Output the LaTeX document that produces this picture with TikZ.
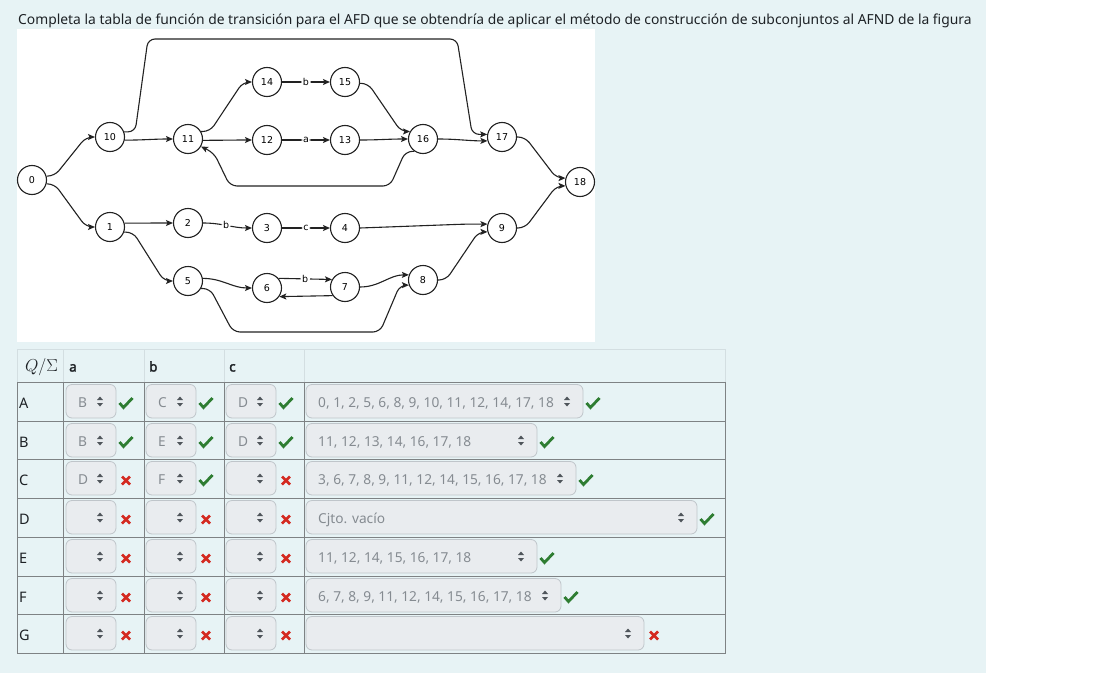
\documentclass[tikz,border=0pt]{standalone}
\usepackage{fontspec}
\setmainfont{Noto Sans}
\newfontfamily\gvfont{DejaVu Sans}
\newfontfamily\hdrfont[AutoFakeBold=2.2]{Noto Sans}
\usetikzlibrary{arrows.meta,calc}
\definecolor{pagebg}{HTML}{E7F3F5}
\definecolor{selfill}{HTML}{E9ECEF}
\definecolor{selborder}{HTML}{BFC5CA}
\definecolor{seltext}{HTML}{858B91}
\definecolor{okgreen}{HTML}{2E7D32}
\definecolor{badred}{HTML}{D42A20}
\definecolor{gridline}{HTML}{7E8284}
\definecolor{headline}{HTML}{D3DEE1}
\definecolor{txt}{HTML}{1D2125}
\definecolor{iconc}{HTML}{4F555B}
\definecolor{gvline}{HTML}{222222}
\newcommand\markok[2]{\draw[okmark] (#1-6.5,#2-0.5) -- (#1-2.5,#2+4) -- (#1+6.5,#2-5.5);}
\newcommand\markbad[2]{\draw[badmark] (#1-4,#2-4) -- (#1+4,#2+4) (#1-4,#2+4) -- (#1+4,#2-4);}
\newcommand\Sel[6]{%
  \draw[selbox] (#2,#4+2.5) rectangle (#3,#4+36);
  \node[seltxt] (#1t) at (#2+12,#4+25) {#5};
  \fill[iconc] (#3-19,#4+18) -- (#3-13,#4+18) -- (#3-16,#4+14.5) -- cycle;
  \fill[iconc] (#3-19,#4+21) -- (#3-13,#4+21) -- (#3-16,#4+24.5) -- cycle;
  #6{#3+10}{#4+21.5}
}
\newcommand\RowLab[3]{\node[rowlab] (#1) at (19,#2+26) {#3};}
\begin{document}
\begin{tikzpicture}[x=1pt,y=-1pt,
  st/.style={circle, draw=gvline, line width=1.1pt, minimum size=29pt, inner sep=0pt, fill=white,
    font=\gvfont\fontsize{9.5}{10}\selectfont},
  ed/.style={draw=gvline, line width=1.1pt, rounded corners=7pt,
    -{Stealth[length=7pt,width=6pt,inset=1.5pt]}},
  lbl/.style={fill=white, inner sep=1.5pt, font=\gvfont\fontsize{9.5}{10}\selectfont},
  selbox/.style={draw=selborder, line width=0.8pt, fill=selfill, rounded corners=6pt},
  seltxt/.style={anchor=base west, inner sep=0pt, text=seltext, font=\fontsize{13.7}{15}\selectfont},
  okmark/.style={draw=okgreen, line width=2.8pt, line join=miter},
  badmark/.style={draw=badred, line width=2.7pt},
  rowlab/.style={anchor=base west, inner sep=0pt, text=txt, font=\fontsize{14.5}{16}\selectfont},
  hdr/.style={anchor=base west, inner sep=0pt, text=txt, font=\hdrfont\bfseries\fontsize{13.5}{15}\selectfont},
  grid/.style={draw=gridline, line width=1pt},
  hgrid/.style={draw=headline, line width=1pt}]
\useasboundingbox (0,0) rectangle (1099,698);
\fill[white] (0,0) rectangle (1099,698);
\fill[pagebg] (0,0) rectangle (986,673);
\fill[white] (17,29) rectangle (595,342);
\node[anchor=base west, inner sep=0pt, text=txt, font=\fontsize{13.85}{15}\selectfont] (title) at (18,24.5)
  {Completa la tabla de función de transición para el AFD que se obtendría de aplicar el método de construcción de subconjuntos al AFND de la figura};

% ---------- automaton ----------
\node[st] (n0) at (32,180) {0};
\node[st] (n10) at (110,137) {10};
\node[st] (n11) at (188,139) {11};
\node[st] (n14) at (267,82) {14};
\node[st] (n12) at (267,140) {12};
\node[st] (n15) at (345,82) {15};
\node[st] (n13) at (345,140) {13};
\node[st] (n16) at (423,139) {16};
\node[st] (n17) at (502,137) {17};
\node[st] (n18) at (580,182) {18};
\node[st] (n1) at (110,227) {1};
\node[st] (n2) at (188,223) {2};
\node[st] (n3) at (267,228) {3};
\node[st] (n4) at (345,228) {4};
\node[st] (n5) at (188,281) {5};
\node[st] (n6) at (267,288) {6};
\node[st] (n7) at (345,287) {7};
\node[st] (n8) at (423,280) {8};
\node[st] (n9) at (502,228) {9};

\draw[ed] (n0.15) -- ++(8,0) -- ([xshift=-9pt]n10.west) -- (n10.west);
\draw[ed] (n0.-15) -- ++(8,0) -- ([xshift=-9pt]n1.west) -- (n1.west);
\draw[ed] (n10.-12) to[out=0,in=180] (n11.west);
\draw[ed] (n10.20) -- ++(11,0) -- (148,39) -- (457,39) -- ([xshift=-15pt]n17.170) -- (n17.170);
\draw[ed] (n11.30) -- ++(9,0) -- ([xshift=-9pt]n14.west) -- (n14.west);
\draw[ed] (n11.-5) to[out=0,in=180] (n12.west);
\draw[ed] (n14) -- node[lbl] (lb1) {b} (n15);
\draw[ed] (n12) -- node[lbl] (lb2) {a} (n13);
\draw[ed] (n15.-5) -- ++(8,0) -- ([xshift=-9pt]n16.150) -- (n16.150);
\draw[ed] (n13.east) to[out=0,in=180] (n16.west);
\draw[ed] (n16.235) -- ++(-9,0) -- (390,186) -- (230,186) -- (214,153) -- (n11.-30);
\draw[ed] (n16.east) to[out=0,in=180] (n17.-165);
\draw[ed] (n17.east) -- ++(8,0) -- ([xshift=-9pt]n18.165) -- (n18.165);
\draw[ed] (n9.east) -- ++(8,0) -- ([xshift=-9pt]n18.-165) -- (n18.-165);
\draw[ed] (n1.15) -- (n2.west);
\draw[ed] (n1.-20) -- ++(9,0) -- ([xshift=-9pt]n5.west) -- (n5.west);
\draw[ed] (n2.east) to[out=0,in=180] node[lbl,pos=0.47] (lb3) {b} (n3.west);
\draw[ed] (n3) -- node[lbl] (lb4) {c} (n4);
\draw[ed] (n4.east) -- ([xshift=-22pt]n9.165) -- (n9.165);
\draw[ed] (n5.10) to[out=0,in=180] (n6.west);
\draw[ed] (n6.40) -- node[lbl] (lb5) {b} (n7.150);
\draw[ed] (n7.-145) -- (n6.-35);
\draw[ed] (n5.-30) -- ++(9,0) -- (233,332) -- (380,332) -- ([xshift=-9pt]n8.-160) -- (n8.-160);
\draw[ed] (n7.east) to[out=0,in=180] (n8.160);
\draw[ed] (n8.east) -- ++(8,0) -- ([xshift=-9pt]n9.-165) -- (n9.-165);

% ---------- table ----------
\draw[hgrid] (17,349) rectangle (725,382);
\foreach \xx in {63,144,224,304} \draw[hgrid] (\xx,349) -- (\xx,382);
\draw[grid] (17,382) rectangle (725,653);
\foreach \yy in {421,459,498,537,576,614} \draw[grid] (17,\yy) -- (725,\yy);
\foreach \xx in {63,144,224,304} \draw[grid] (\xx,382) -- (\xx,653);

\node[anchor=base, inner sep=0pt, text=txt, font=\fontsize{16}{18}\selectfont] (hq) at (41.5,371.5) {$Q/\Sigma$};
\node[hdr] (ha) at (69,371.5) {a};
\node[hdr] (hb) at (149,371.5) {b};
\node[hdr] (hc) at (229,371.5) {c};

\RowLab{rA}{382}{A}
\RowLab{rB}{421}{B}
\RowLab{rC}{459}{C}
\RowLab{rD}{498}{D}
\RowLab{rE}{537}{E}
\RowLab{rF}{576}{F}
\RowLab{rG}{614}{G}

% row A
\Sel{aa}{66}{116}{382}{B}{\markok}
\Sel{ab}{146}{196}{382}{C}{\markok}
\Sel{ac}{226}{276}{382}{D}{\markok}
\Sel{as}{306}{583}{382}{0, 1, 2, 5, 6, 8, 9, 10, 11, 12, 14, 17, 18}{\markok}
% row B
\Sel{ba}{66}{116}{421}{B}{\markok}
\Sel{bb}{146}{196}{421}{E}{\markok}
\Sel{bc}{226}{276}{421}{D}{\markok}
\Sel{bs}{306}{537}{421}{11, 12, 13, 14, 16, 17, 18}{\markok}
% row C
\Sel{ca}{66}{116}{459}{D}{\markbad}
\Sel{cb}{146}{196}{459}{F}{\markok}
\Sel{cc}{226}{276}{459}{}{\markbad}
\Sel{cs}{306}{576}{459}{3, 6, 7, 8, 9, 11, 12, 14, 15, 16, 17, 18}{\markok}
% row D
\Sel{da}{66}{116}{498}{}{\markbad}
\Sel{db}{146}{196}{498}{}{\markbad}
\Sel{dc}{226}{276}{498}{}{\markbad}
\Sel{ds}{306}{697}{498}{Cjto. vacío}{\markok}
% row E
\Sel{ea}{66}{116}{537}{}{\markbad}
\Sel{eb}{146}{196}{537}{}{\markbad}
\Sel{ec}{226}{276}{537}{}{\markbad}
\Sel{es}{306}{537}{537}{11, 12, 14, 15, 16, 17, 18}{\markok}
% row F
\Sel{fa}{66}{116}{576}{}{\markbad}
\Sel{fb}{146}{196}{576}{}{\markbad}
\Sel{fc}{226}{276}{576}{}{\markbad}
\Sel{fs}{306}{561}{576}{6, 7, 8, 9, 11, 12, 14, 15, 16, 17, 18}{\markok}
% row G
\Sel{ga}{66}{116}{614}{}{\markbad}
\Sel{gb}{146}{196}{614}{}{\markbad}
\Sel{gc}{226}{276}{614}{}{\markbad}
\Sel{gs}{306}{644}{614}{}{\markbad}
\end{tikzpicture}
\end{document}
